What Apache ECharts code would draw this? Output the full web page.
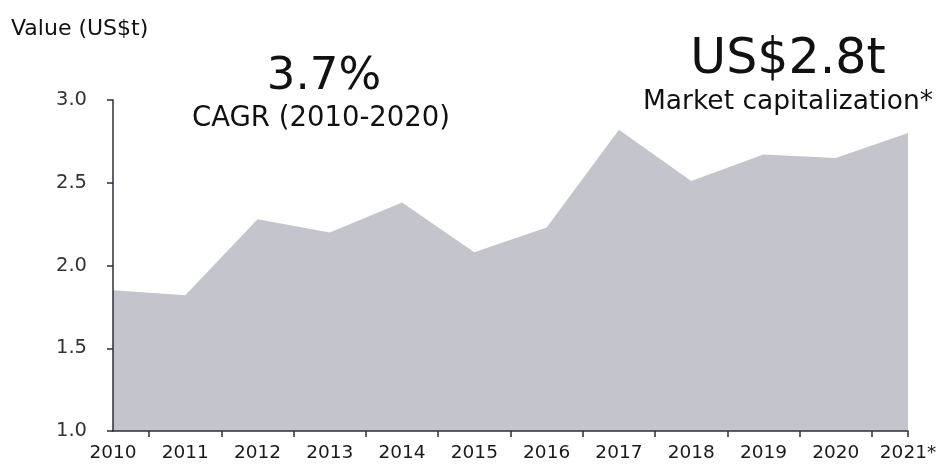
<!DOCTYPE html>
<html>
<head>
<meta charset="utf-8">
<script src="https://cdn.jsdelivr.net/npm/echarts@6/dist/echarts.min.js"></script>
<style>html,body{margin:0;padding:0;background:#fff;}#c{width:941px;height:465px;}</style>
</head>
<body>
<div id="c"></div>
<script>
const categories = ['2010','2011','2012','2013','2014','2015','2016','2017','2018','2019','2020','2021*'];
const values = [1.85, 1.82, 2.28, 2.20, 2.38, 2.08, 2.23, 2.82, 2.51, 2.67, 2.65, 2.80];
const yTicks = [1.0, 1.5, 2.0, 2.5, 3.0];

const last = categories.length - 1;
const tickValues = categories.slice(0, last).map((_, i) => i + 0.5).concat([last]);

const chart = echarts.init(document.getElementById('c'), null, {renderer: 'canvas'});
const axisColor = '#2e2e38';
const F = 'DejaVu Sans';
chart.setOption({
  animation: false,
  grid: {left: 113, right: 33, top: 100, bottom: 34, containLabel: false},
  xAxis: [{
    type: 'category',
    z: 5,
    data: categories,
    boundaryGap: false,
    axisLine: {show: true, lineStyle: {color: axisColor, width: 1.5}},
    axisTick: {show: false},
    axisLabel: {color: '#1a1a1a', fontFamily: F, fontSize: 18.5, margin: 13, interval: 0},
    splitLine: {show: false}
  }, {
    type: 'value',
    z: 5,
    min: 0, max: last,
    position: 'bottom',
    axisLine: {show: false},
    axisLabel: {show: false},
    splitLine: {show: false},
    axisTick: {show: true, customValues: tickValues, length: 6, lineStyle: {color: axisColor, width: 1.5}}
  }],
  yAxis: {
    type: 'value',
    z: 5,
    min: yTicks[0], max: yTicks[yTicks.length - 1], interval: 0.5,
    axisLine: {show: true, lineStyle: {color: axisColor, width: 1.5}},
    axisTick: {show: true, length: 6, lineStyle: {color: axisColor, width: 1.5}},
    axisLabel: {color: '#333', fontFamily: F, fontSize: 19.5, margin: 26,
      formatter: v => v.toFixed(1)},
    splitLine: {show: false}
  },
  series: [{
    type: 'line',
    data: values,
    xAxisIndex: 0,
    symbol: 'none',
    lineStyle: {width: 0, color: '#c4c4cc'},
    areaStyle: {color: '#c4c4cc', opacity: 1},
    z: 1
  }],
  graphic: [
    {type: 'text', x: 11, y: 29, style: {text: 'Value (US$t)', fontFamily: F, fontSize: 22, fill: '#111', verticalAlign: 'middle'}},
    {type: 'text', x: 324, y: 77, style: {text: '3.7%', fontFamily: F, fontSize: 45, fill: '#111', align: 'center', verticalAlign: 'middle'}},
    {type: 'text', x: 321, y: 119, style: {text: 'CAGR (2010-2020)', fontFamily: F, fontSize: 27.5, fill: '#111', align: 'center', verticalAlign: 'middle'}},
    {type: 'text', x: 788, y: 60, style: {text: 'US$2.8t', fontFamily: F, fontSize: 49, fill: '#111', align: 'center', verticalAlign: 'middle'}},
    {type: 'text', x: 933, y: 102, style: {text: 'Market capitalization*', fontFamily: F, fontSize: 26.5, fill: '#111', align: 'right', verticalAlign: 'middle'}}
  ]
});
</script>
</body>
</html>
